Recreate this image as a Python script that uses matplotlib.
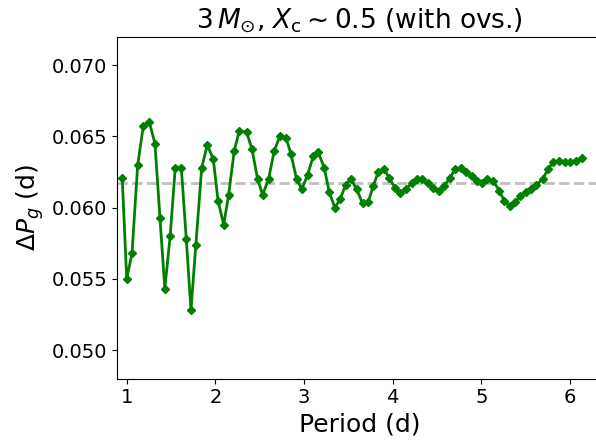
import matplotlib
matplotlib.use("Agg")
import matplotlib.pyplot as plt
import numpy as np

period = [0.950, 1.000, 1.060, 1.124, 1.187, 1.255, 1.319, 1.375, 1.430, 1.490,
          1.548, 1.616, 1.672, 1.725, 1.780, 1.846, 1.909, 1.977, 2.030, 2.094,
          2.150, 2.213, 2.270, 2.353, 2.413, 2.477, 2.533, 2.600, 2.664, 2.728,
          2.796, 2.852, 2.916, 2.976, 3.040, 3.104, 3.160, 3.228, 3.284, 3.348,
          3.408, 3.469, 3.529, 3.593, 3.660, 3.724, 3.780, 3.837, 3.905, 3.960,
          4.025, 4.085, 4.149, 4.213, 4.270, 4.329, 4.393, 4.457, 4.518, 4.580,
          4.645, 4.705, 4.765, 4.825, 4.889, 4.953, 5.009, 5.066, 5.133, 5.200,
          5.257, 5.320, 5.385, 5.440, 5.500, 5.558, 5.620, 5.690, 5.753, 5.810,
          5.877, 5.940, 6.000, 6.070, 6.140]
dp = [0.06205, 0.0550, 0.0568, 0.0630, 0.0657, 0.0660, 0.0645, 0.0593, 0.0543, 0.0580,
      0.0628, 0.0628, 0.0578, 0.0528, 0.0574, 0.0628, 0.0644, 0.0634, 0.0605, 0.0588,
      0.0609, 0.0640, 0.0654, 0.0653, 0.0641, 0.0620, 0.0609, 0.0620, 0.0640, 0.0650,
      0.0649, 0.0638, 0.0620, 0.0613, 0.0623, 0.0636, 0.0639, 0.0628, 0.0611, 0.0600,
      0.0606, 0.0616, 0.0620, 0.0613, 0.0603, 0.0604, 0.0615, 0.0625, 0.0627, 0.0621,
      0.0614, 0.0610, 0.0613, 0.0617, 0.0620, 0.0620, 0.0617, 0.0614, 0.0612, 0.0615,
      0.0621, 0.0627, 0.0628, 0.0625, 0.0622, 0.0619, 0.0617, 0.0620, 0.0619, 0.0612,
      0.0605, 0.0601, 0.0604, 0.0608, 0.0611, 0.0613, 0.0616, 0.0620, 0.0627, 0.0632,
      0.0633, 0.0632, 0.0632, 0.0633, 0.0635]
dp_mean = 0.06175

fig = plt.figure(figsize=(5.96, 4.41), dpi=100)
ax = fig.add_axes([0.1968, 0.1417, 0.813, 0.775])

ax.axhline(dp_mean, color='gray', ls='--', lw=2, alpha=0.5)
ax.plot(period, dp, color='green', lw=2, marker='D', ms=4.5)

ax.set_xlim(0.894, 6.359)
ax.set_ylim(0.048, 0.072)
ax.set_yticks([0.050, 0.055, 0.060, 0.065, 0.070])
ax.set_xticks([1, 2, 3, 4, 5, 6])
ax.tick_params(labelsize=14)

ax.set_xlabel('Period (d)', fontsize=18)
ax.set_ylabel(r'$\Delta P_g$ (d)', fontsize=18)
ax.set_title(r'$3\,M_{\odot}$, $X_{\rm c}\sim0.5$ (with ovs.)', fontsize=19)

fig.savefig('out.png', dpi=100)
